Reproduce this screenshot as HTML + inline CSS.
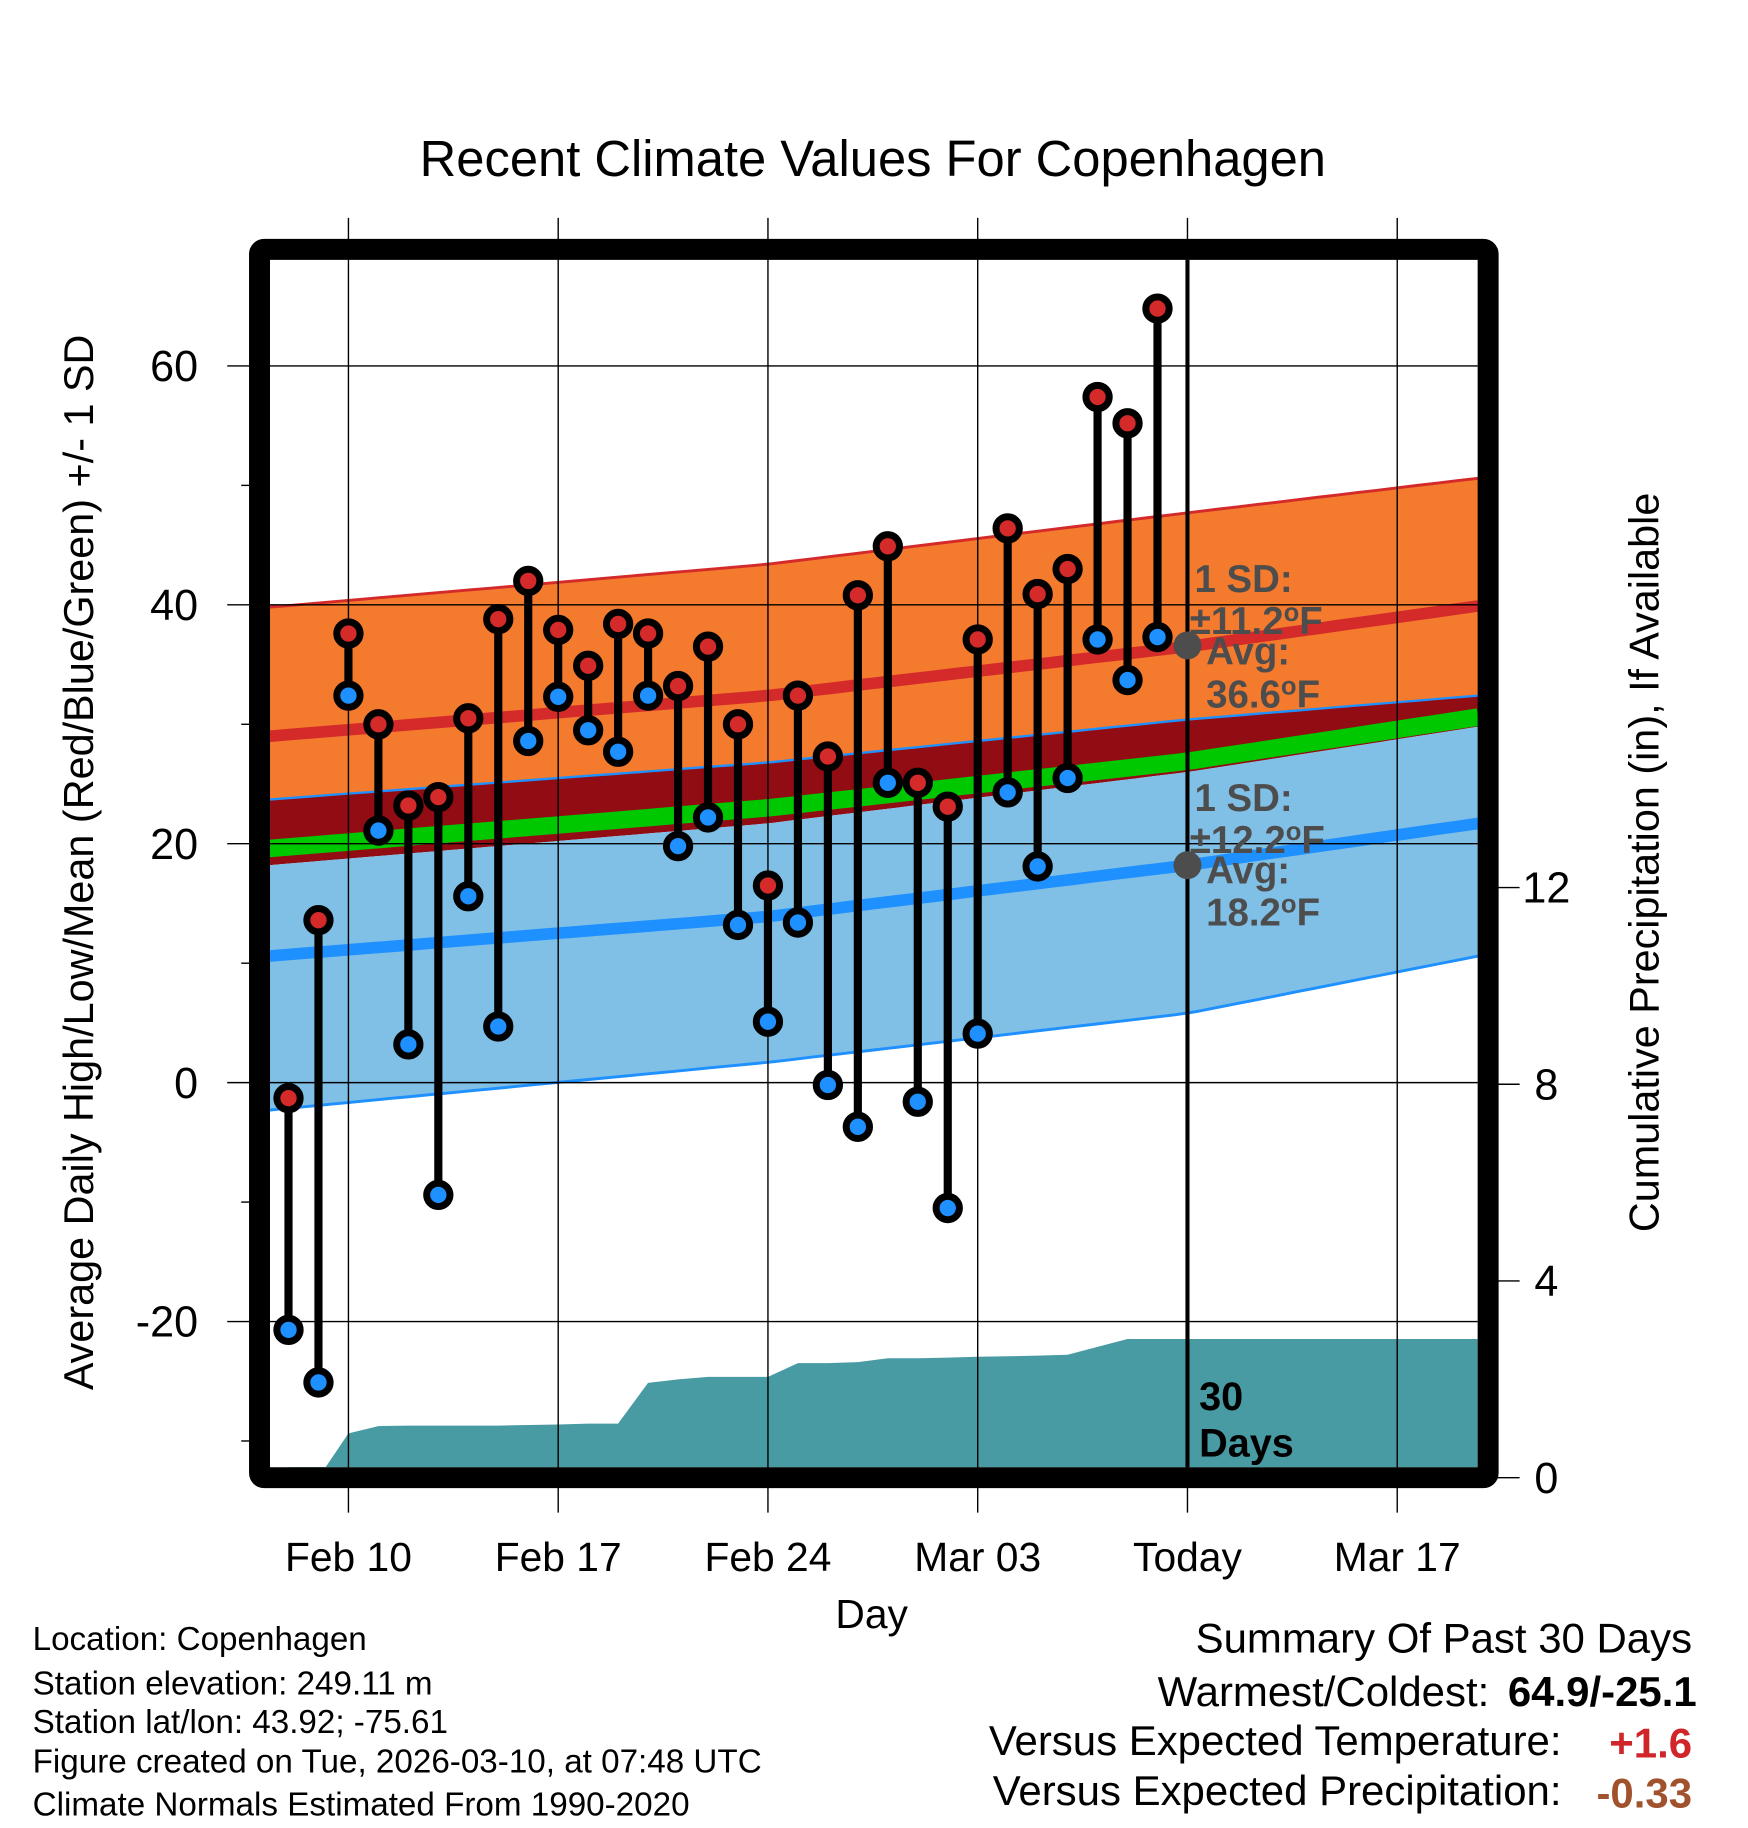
<!DOCTYPE html>
<html><head><meta charset="utf-8">
<style>
html,body{margin:0;padding:0;background:#fff;}
svg{display:block;}
text{font-family:"Liberation Sans",Arial,sans-serif;}
</style></head>
<body>
<svg id="chart" width="1748" height="1828" viewBox="0 0 1500 1568.6" preserveAspectRatio="none" xmlns="http://www.w3.org/2000/svg">
<g id="bands"></g>
<g id="precip"></g>
<g id="grid"></g>
<g id="marks"></g>
<g id="annot"></g>
<g id="axes"></g>
<text x="749" y="151" font-size="43.5" text-anchor="middle">Recent Climate Values For Copenhagen</text>
<text x="748" y="1397" font-size="35" text-anchor="middle">Day</text>
<text transform="translate(80,740) rotate(-90)" font-size="35.5" text-anchor="middle">Average Daily High/Low/Mean (Red/Blue/Green) +/- 1 SD</text>
<text transform="translate(1423,740) rotate(-90)" font-size="35.5" text-anchor="middle">Cumulative Precipitation (in), If Available</text>
<g font-size="28.5">
<text x="28" y="1416">Location: Copenhagen</text>
<text x="28" y="1454">Station elevation: 249.11 m</text>
<text x="28" y="1487">Station lat/lon: 43.92; -75.61</text>
<text x="28" y="1521">Figure created on Tue, 2026-03-10, at 07:48 UTC</text>
<text x="28" y="1558">Climate Normals Estimated From 1990-2020</text>
</g>
<g font-size="36">
<text x="1452" y="1418" text-anchor="end">Summary Of Past 30 Days</text>
<text x="1278" y="1464" text-anchor="end">Warmest/Coldest:</text>
<text x="1456" y="1464" text-anchor="end" font-weight="bold">64.9/-25.1</text>
<text x="1340" y="1506" text-anchor="end">Versus Expected Temperature:</text>
<text x="1452" y="1508" text-anchor="end" font-weight="bold" fill="#d0262a">+1.6</text>
<text x="1340" y="1549" text-anchor="end">Versus Expected Precipitation:</text>
<text x="1452" y="1551" text-anchor="end" font-weight="bold" fill="#a0522d">-0.33</text>
</g>
</svg>
<script>
// ---- data ----
const days = [-2,-1,0,1,2,3,4,5,6,7,8,9,10,11,12,13,14,15,16,17,18,19,20,21,22,23,24,25,26,27];
const highs = [-1.3,13.6,37.6,30.0,23.2,23.9,30.5,38.8,42.0,37.9,34.9,38.4,37.6,33.2,36.5,30.0,16.5,32.4,27.3,40.8,44.9,25.1,23.1,37.1,46.4,40.9,43.0,57.4,55.2,64.8];
const lows = [-20.7,-25.1,32.4,21.1,3.2,-9.4,15.6,4.7,28.6,32.3,29.5,27.7,32.4,19.8,22.2,13.2,5.1,13.4,-0.2,-3.7,25.1,-1.6,-10.5,4.1,24.3,18.1,25.5,37.1,33.7,37.3];
const precip = [0,0,0.9,1.05,1.06,1.06,1.06,1.06,1.07,1.08,1.1,1.1,1.93,2.0,2.05,2.05,2.05,2.33,2.33,2.35,2.43,2.43,2.44,2.46,2.47,2.48,2.5,2.66,2.82,2.82];
const normDays = [-2.65,14,28,37.7];
const hiUpper = [39.8,43.4,47.7,50.6];
const hiMean = [29.0,32.4,36.5,39.9];
const hiLower = [23.7,26.8,30.4,32.4];
const meanT = [19.6,23.0,26.9,30.6];
const loUpper = [18.2,21.7,26.0,29.8];
const loMean = [10.6,13.9,18.2,21.7];
const loLower = [-2.3,1.7,5.8,10.6];
const xTickDays = [0,7,14,21,28,35];
const xTickLabels = ["Feb 10","Feb 17","Feb 24","Mar 03","Today","Mar 17"];
const yTicks = [-20,0,20,40,60];
const yMinor = [-30,-10,10,30,50];
const pTicks = [0,4,8,12];

// ---- scales ----
const X0=231.7,X1=1268,Y0=223,Y1=1259;
function xs(d){return 299+d*25.714;}
function ys(v){return 929-v*10.25;}
function ps(v){return 1268-v*42.2;}
const NS="http://www.w3.org/2000/svg";
function mk(tag,attrs,parent){const e=document.createElementNS(NS,tag);for(const k in attrs)e.setAttribute(k,attrs[k]);parent.appendChild(e);return e;}
function interp(arr,d){for(let i=0;i<normDays.length-1;i++){if(d<=normDays[i+1]||i==normDays.length-2){const t=(d-normDays[i])/(normDays[i+1]-normDays[i]);return arr[i]+t*(arr[i+1]-arr[i]);}}}
const samp=[];for(let i=0;i<=60;i++)samp.push(-2.65+i*(37.7+2.65)/60);
function linePts(arr){return samp.map(d=>xs(d).toFixed(1)+","+ys(interp(arr,d)).toFixed(1));}
function bandPath(a,b){const top=linePts(a),bot=linePts(b).reverse();return "M"+top.join("L")+"L"+bot.join("L")+"Z";}

const bands=document.getElementById('bands');
let e;
e=mk('path',{d:bandPath(hiUpper,hiLower),fill:'#f47a2e'},bands);

e=mk('path',{d:bandPath(hiLower,loUpper),fill:'#920c14'},bands);

e=mk('path',{d:bandPath(loUpper,loLower),fill:'#80c0e6'},bands);

e=mk('polyline',{points:linePts(hiUpper).join(" "),fill:'none',stroke:'#d42a2a','stroke-width':2.5},bands);

e=mk('polyline',{points:linePts(hiMean).join(" "),fill:'none',stroke:'#d42a2a','stroke-width':10},bands);

e=mk('polyline',{points:linePts(hiLower).join(" "),fill:'none',stroke:'#1e90ff','stroke-width':2},bands);

e=mk('polyline',{points:linePts(meanT).join(" "),fill:'none',stroke:'#00c800','stroke-width':15},bands);

e=mk('polyline',{points:linePts(loMean).join(" "),fill:'none',stroke:'#1e90ff','stroke-width':10},bands);

e=mk('polyline',{points:linePts(loLower).join(" "),fill:'none',stroke:'#1e90ff','stroke-width':2.5},bands);


// precip
const pg=document.getElementById('precip');
let pp="M"+xs(days[0])+","+Y1;
days.forEach((d,i)=>{pp+="L"+xs(d).toFixed(1)+","+ps(precip[i]).toFixed(1);});
pp+="L"+X1+","+ps(precip[precip.length-1]).toFixed(1)+"L"+X1+","+Y1+"Z";
e=mk('path',{d:pp,fill:'#489aa3'},pg);


// grid
const grid=document.getElementById('grid');
xTickDays.forEach((d,i)=>{
  e=mk('line',{x1:xs(d),x2:xs(d),y1:187,y2:1298,stroke:'#000','stroke-width':1.2},grid);
  
  if(d==28){e=mk('line',{x1:xs(d),x2:xs(d),y1:Y0,y2:Y1,stroke:'#000','stroke-width':3.5},grid);
  }
  e=mk('text',{x:xs(d),y:1348,'font-size':35,'text-anchor':'middle'},grid);
  e.textContent=xTickLabels[i];
  
});
yTicks.forEach(v=>{
  e=mk('line',{x1:195,x2:X1,y1:ys(v),y2:ys(v),stroke:'#000','stroke-width':1.2},grid);
  
  e=mk('text',{x:170,y:ys(v)+13,'font-size':37,'text-anchor':'end'},grid);
  e.textContent=v;
  
});
yMinor.forEach(v=>{
  e=mk('line',{x1:207,x2:215,y1:ys(v),y2:ys(v),stroke:'#000','stroke-width':1.2},grid);
  
});
pTicks.forEach(v=>{
  e=mk('line',{x1:1284,x2:1304,y1:ps(v),y2:ps(v),stroke:'#000','stroke-width':1.2},grid);
  
  e=mk('text',{x:1327,y:ps(v)+13,'font-size':37,'text-anchor':'middle'},grid);
  e.textContent=v;
  
});

// marks
const marks=document.getElementById('marks');
days.forEach((d,i)=>{
  const x=xs(d);
  e=mk('line',{x1:x,x2:x,y1:ys(highs[i]),y2:ys(lows[i]),stroke:'#000','stroke-width':7},marks);
  
  [[highs[i],'#d42a2a','high-point'],[lows[i],'#1e90ff','low-point']].forEach(p=>{
    e=mk('circle',{cx:x,cy:ys(p[0]),r:10,fill:p[1],stroke:'#000','stroke-width':6},marks);
    
  });
});

// annotations
const an=document.getElementById('annot');
function ann(lines,yv){
  e=mk('circle',{cx:1019,cy:ys(yv),r:12,fill:'#4d4d4d'},an);
  
  lines.forEach(l=>{
    e=mk('text',{x:l[0],y:l[1],'font-size':33,'font-weight':'bold',fill:'#4d4d4d'},an);
    e.innerHTML=l[2];
    
  });
}
ann([[1025,508,'1 SD:'],[1021,544,'±11.2<tspan dy="-11" font-size="22">o</tspan><tspan dy="11">F</tspan>'],[1035,570,'Avg:'],[1035,607,'36.6<tspan dy="-11" font-size="22">o</tspan><tspan dy="11">F</tspan>']],36.6);
ann([[1025,696,'1 SD:'],[1021,732,'±12.2<tspan dy="-11" font-size="22">o</tspan><tspan dy="11">F</tspan>'],[1035,758,'Avg:'],[1035,794,'18.2<tspan dy="-11" font-size="22">o</tspan><tspan dy="11">F</tspan>']],18.2);
e=mk('text',{x:1029,y:1210,'font-size':34,'font-weight':'bold'},an);
e.textContent='30';

e=mk('text',{x:1029,y:1250,'font-size':34,'font-weight':'bold'},an);
e.textContent='Days';


// frame
const ax=document.getElementById('axes');
e=mk('rect',{x:222.7,y:214,width:1054.3,height:1054,fill:'none',stroke:'#000','stroke-width':18,rx:4},ax);

</script>
</body></html>
